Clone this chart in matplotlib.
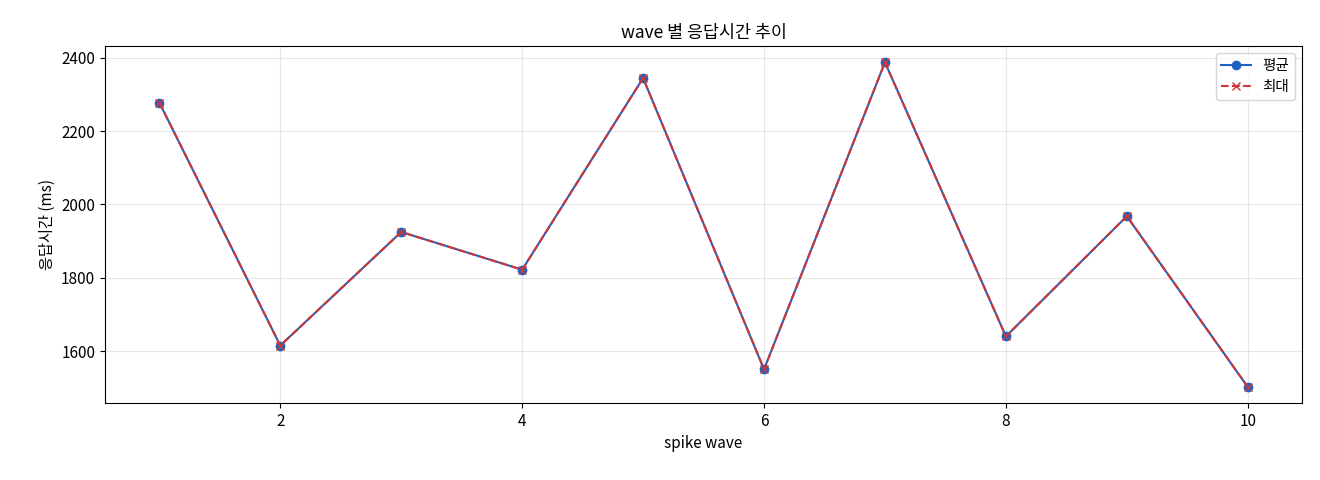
import matplotlib
matplotlib.use("Agg")
import matplotlib.pyplot as plt

plt.rcParams['font.family'] = ['Noto Sans CJK KR', 'DejaVu Sans']
plt.rcParams['xtick.labelsize'] = 11
plt.rcParams['ytick.labelsize'] = 11

waves = [1, 2, 3, 4, 5, 6, 7, 8, 9, 10]
avg_ms = [2278, 1615, 1925, 1822, 2345, 1550, 2388, 1640, 1968, 1502]
max_ms = [2278, 1615, 1925, 1822, 2345, 1550, 2388, 1640, 1968, 1502]

fig = plt.figure(figsize=(13.2, 4.8), dpi=100)
ax = fig.add_axes([0.0795, 0.16, 0.907, 0.744])
ax.plot(waves, avg_ms, marker='o', color='#1f63c0', label='평균', markersize=6)
ax.plot(waves, max_ms, marker='x', linestyle='--', color='#d03535', label='최대', markersize=6)
ax.set_title('wave 별 응답시간 추이', fontsize=12.5)
ax.set_xlabel('spike wave', fontsize=11)
ax.set_ylabel('응답시간 (ms)', fontsize=11)
ax.set_yticks([1600, 1800, 2000, 2200, 2400])
ax.set_xticks([2, 4, 6, 8, 10])
ax.grid(True, alpha=0.3)
ax.legend(loc='upper right', fontsize=10.5)
fig.savefig('out.png', dpi=100)
